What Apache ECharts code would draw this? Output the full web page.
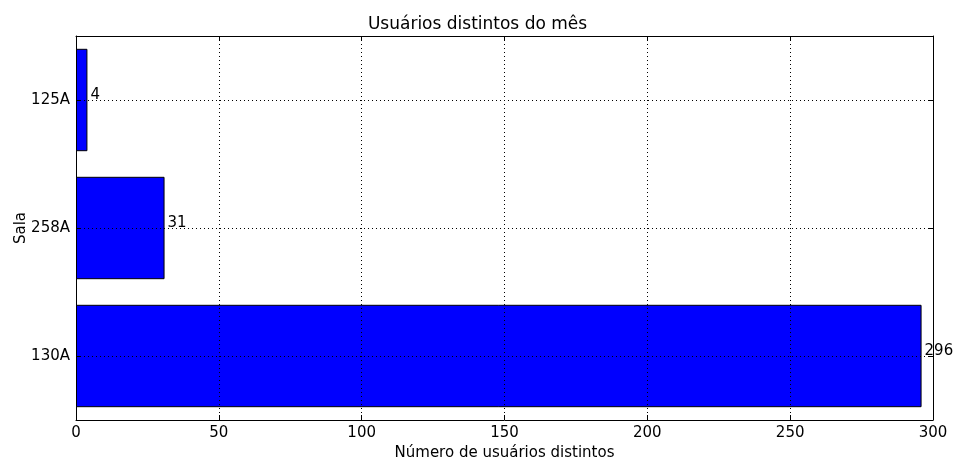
<!DOCTYPE html>
<html><head><meta charset="utf-8">
<script src="https://cdn.jsdelivr.net/npm/echarts@6/dist/echarts.min.js"></script>
<style>html,body{margin:0;padding:0;background:#fff}#c{width:955px;height:461px}</style>
</head><body><div id="c"></div>
<script>
const categories = ['130A', '258A', '125A'];
const values = [296, 31, 4];
const xTicks = [0, 50, 100, 150, 200, 250, 300];

const FONT = 'DejaVu Sans';
const L = 76, R = 22, T = 36, B = 41, H = 461 - T - B;
const half = H / categories.length / 2;
const chart = echarts.init(document.getElementById('c'), null, {renderer: 'canvas'});
const dotted = {show: true, lineStyle: {color: '#000', type: [1, 3], width: 1}};
const tick = {show: true, inside: true, length: 5, lineStyle: {color: '#000'}};
const solid = {show: true, onZero: false, lineStyle: {color: '#000', width: 1}};
const base = {outerBoundsMode: 'none', containLabel: false};
chart.setOption({
  backgroundColor: '#fff',
  animation: false,
  textStyle: {fontFamily: FONT},
  title: {text: 'Usuários distintos do mês', left: 'center', top: 11,
    textStyle: {fontFamily: FONT, fontWeight: 'normal', fontSize: 17, color: '#000'}},
  grid: [
    Object.assign({left: L, right: R, top: T, bottom: B}, base),
    Object.assign({left: L, right: R, top: T, bottom: B}, base),
    Object.assign({left: L, right: R, top: T + half, bottom: B + half}, base)
  ],
  xAxis: [{
    gridIndex: 0, type: 'value', min: 0, max: 300, interval: 50,
    name: 'Número de usuários distintos', nameLocation: 'middle', nameGap: 26, nameMoveOverlap: false,
    nameTextStyle: {fontFamily: FONT, fontSize: 15, color: '#000'},
    axisLine: solid,
    axisTick: {show: false},
    axisLabel: {fontFamily: FONT, fontSize: 15, color: '#000', margin: 6,
      formatter: v => xTicks.includes(v) ? String(v) : ''},
    splitLine: {show: false}
  }, {
    gridIndex: 1, type: 'value', min: 0, max: 300, interval: 50, z: 10,
    axisLine: {show: false}, axisLabel: {show: false},
    axisTick: tick, splitLine: dotted
  }, {
    gridIndex: 1, type: 'value', min: 0, max: 300, interval: 50, z: 10, position: 'top',
    axisLine: solid, axisLabel: {show: false},
    axisTick: tick, splitLine: {show: false}
  }, {
    gridIndex: 2, type: 'value', min: 0, max: 300, show: false
  }],
  yAxis: [{
    gridIndex: 0, type: 'category', data: categories,
    name: 'Sala', nameLocation: 'middle', nameGap: 47, nameRotate: 90, nameMoveOverlap: false,
    nameTextStyle: {fontFamily: FONT, fontSize: 15, color: '#000'},
    axisLine: solid,
    axisTick: {show: false},
    axisLabel: {fontFamily: FONT, fontSize: 15, color: '#000', margin: 6},
    splitLine: {show: false}
  }, {
    gridIndex: 1, type: 'value', min: 0, max: 1, show: false
  }, {
    gridIndex: 2, type: 'value', min: 0, max: categories.length - 1, interval: 1, z: 10,
    axisLine: {show: false}, axisLabel: {show: false},
    axisTick: tick, splitLine: dotted
  }, {
    gridIndex: 2, type: 'value', min: 0, max: categories.length - 1, interval: 1, z: 10, position: 'right',
    axisLine: {show: false}, axisLabel: {show: false},
    axisTick: tick, splitLine: {show: false}
  }, {
    gridIndex: 1, type: 'value', min: 0, max: 1, z: 10, position: 'right',
    axisLine: solid, axisLabel: {show: false},
    axisTick: {show: false}, splitLine: {show: false}
  }],
  series: [{
    type: 'bar', xAxisIndex: 0, yAxisIndex: 0, data: values, barWidth: '80%',
    itemStyle: {color: '#0000ff', borderColor: '#000', borderWidth: 1},
    label: {show: true, position: 'right', distance: 3, offset: [0, -5],
      fontFamily: FONT, fontSize: 15, color: '#000'}
  }]
});
</script></body></html>
